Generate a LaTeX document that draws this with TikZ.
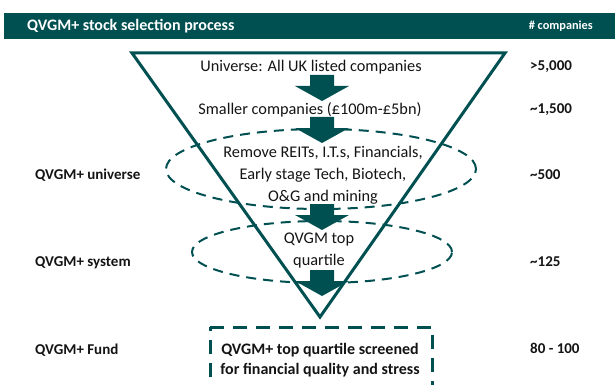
\documentclass[tikz,border=0pt]{standalone}
\usepackage{fontspec}
\setmainfont{Carlito}
\definecolor{qteal}{RGB}{0,80,82}
\definecolor{qtext}{RGB}{20,20,20}
\tikzset{
  hdr/.style={text=white, font=\bfseries\fontsize{16}{18}\selectfont, inner sep=0pt},
  hdrsmall/.style={text=white, font=\bfseries\fontsize{12.3}{14}\selectfont, inner sep=0pt},
  stage/.style={text=qtext, font=\fontsize{16.3}{22}\selectfont, align=center, inner sep=0pt},
  side/.style={text=qtext, font=\bfseries\fontsize{15}{17}\selectfont, inner sep=0pt, anchor=west},
  fundtext/.style={text=qtext, font=\bfseries\fontsize{16}{20}\selectfont, align=center, inner sep=0pt},
  dashell/.style={draw=qteal, line width=2pt, dash pattern=on 10pt off 7pt},
  funnel/.style={draw=qteal, line width=3pt, line join=miter},
  fundbox/.style={draw=qteal, line width=3pt, dash pattern=on 14pt off 9pt},
  blockarr/.pic={\fill[qteal] (-12,0) -- (12,0) -- (12,11) -- (27,11) -- (0,26) -- (-27,11) -- (-12,11) -- cycle;}
}
\begin{document}
\begin{tikzpicture}[x=1pt,y=-1pt]
\useasboundingbox (0,0) rectangle (615,385);
% header
\fill[qteal] (4,13) rectangle (615,39);
\node[hdr, anchor=west] (title) at (27,26) {QVGM+ stock selection process};
\node[hdrsmall, anchor=east] (cols) at (593,26) {\# companies};
% ellipses
\draw[dashell] (321,169) ellipse [x radius=155pt, y radius=40pt];
\draw[dashell] (322,252) ellipse [x radius=130pt, y radius=31pt];
% funnel
\draw[funnel] (132,53) -- (505,53) -- (320,317) -- cycle;
% fund box
\draw[fundbox] (210,327) -- (432,327) -- (432,400) (210,400) -- (210,327);
% stage texts
\node[stage] (s1) at (311,67) {Universe: All UK listed companies};
\node[stage] (s2) at (310,110) {Smaller companies (£100m-£5bn)};
\node[stage] (s3) at (323,175) {Remove REITs, I.T.s, Financials,\\Early stage Tech, Biotech,\\O\&G and mining};
\node[stage] (s4) at (319,251) {QVGM top\\quartile};
\node[fundtext] (s5) at (320,360) {QVGM+ top quartile screened\\for financial quality and stress};
% arrows
\pic at (322,75) {blockarr};
\pic at (322,117) {blockarr};
\pic at (322,204) {blockarr};
\pic at (322,270) {blockarr};
% side labels
\node[side] (l1) at (35,175) {QVGM+ universe};
\node[side] (l2) at (35,263) {QVGM+ system};
\node[side] (l3) at (35,350) {QVGM+ Fund};
\node[side] (n1) at (530,67) {>5,000};
\node[side] (n2) at (530,110) {\textasciitilde 1,500};
\node[side] (n3) at (530,175) {\textasciitilde 500};
\node[side] (n4) at (530,262) {\textasciitilde 125};
\node[side] (n5) at (530,348) {80 - 100};
\end{tikzpicture}
\end{document}
